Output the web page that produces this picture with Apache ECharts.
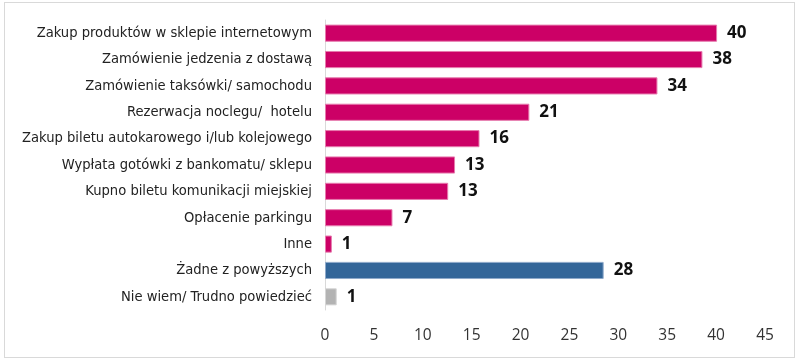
<!DOCTYPE html>
<html><head><meta charset="utf-8">
<script src="https://cdn.jsdelivr.net/npm/echarts@6/dist/echarts.min.js"></script>
<style>html,body{margin:0;padding:0;background:#fff}#c{width:800px;height:362px}
#frame{position:absolute;left:4px;top:2px;width:791px;height:356px;border:1px solid #d9d9d9;box-sizing:border-box;pointer-events:none}</style>
</head><body><div id="c"></div><div id="frame"></div>
<script>
const categories = [
  'Zakup produktów w sklepie internetowym',
  'Zamówienie jedzenia z dostawą',
  'Zamówienie taksówki/ samochodu',
  'Rezerwacja noclegu/  hotelu',
  'Zakup biletu autokarowego i/lub kolejowego',
  'Wypłata gotówki z bankomatu/ sklepu',
  'Kupno biletu komunikacji miejskiej',
  'Opłacenie parkingu',
  'Inne',
  'Żadne z powyższych',
  'Nie wiem/ Trudno powiedzieć'
];
// bar lengths; labels show rounded values
const values = [40.1, 38.6, 34.0, 20.9, 15.8, 13.3, 12.6, 6.9, 0.7, 28.5, 1.2];
const labels = [40, 38, 34, 21, 16, 13, 13, 7, 1, 28, 1];
const groups = ['yes','yes','yes','yes','yes','yes','yes','yes','yes','none','dk'];
const xTicks = [0, 5, 10, 15, 20, 25, 30, 35, 40, 45];

const groupColor = {yes:'#CC0066', none:'#336699', dk:'#B3B3B3'};
const groupBorder = {yes:'#E77AAE', none:'#8FAACB', dk:'#D6D6D6'};

const chart = echarts.init(document.getElementById('c'));
chart.setOption({
  animation:false,
  grid:{left:325, right:35, top:20, bottom:52, containLabel:false},
  xAxis:{type:'value', min:xTicks[0], max:xTicks[xTicks.length-1], interval:5,
    axisLine:{show:false}, axisTick:{show:false}, splitLine:{show:false},
    axisLabel:{color:'#333', fontFamily:'Open Sans', fontSize:15.5, margin:18}},
  yAxis:{type:'category', data:categories, inverse:true,
    axisLine:{show:true, lineStyle:{color:'#d9d9d9', width:1}},
    axisTick:{show:false},
    axisLabel:{color:'#222', fontFamily:'DejaVu Sans Condensed, DejaVu Sans', fontSize:14.6, margin:13}},
  series:[{type:'bar', barCategoryGap:'35%',
    data: values.map((v,i)=>({value:v, itemStyle:{color:groupColor[groups[i]], borderColor:groupBorder[groups[i]], borderWidth:1}})),
    label:{show:true, position:'right', distance:10, color:'#111', fontFamily:'Open Sans', fontWeight:'bold', fontSize:17,
      formatter:p=>String(labels[p.dataIndex])}
  }]
});
</script></body></html>
